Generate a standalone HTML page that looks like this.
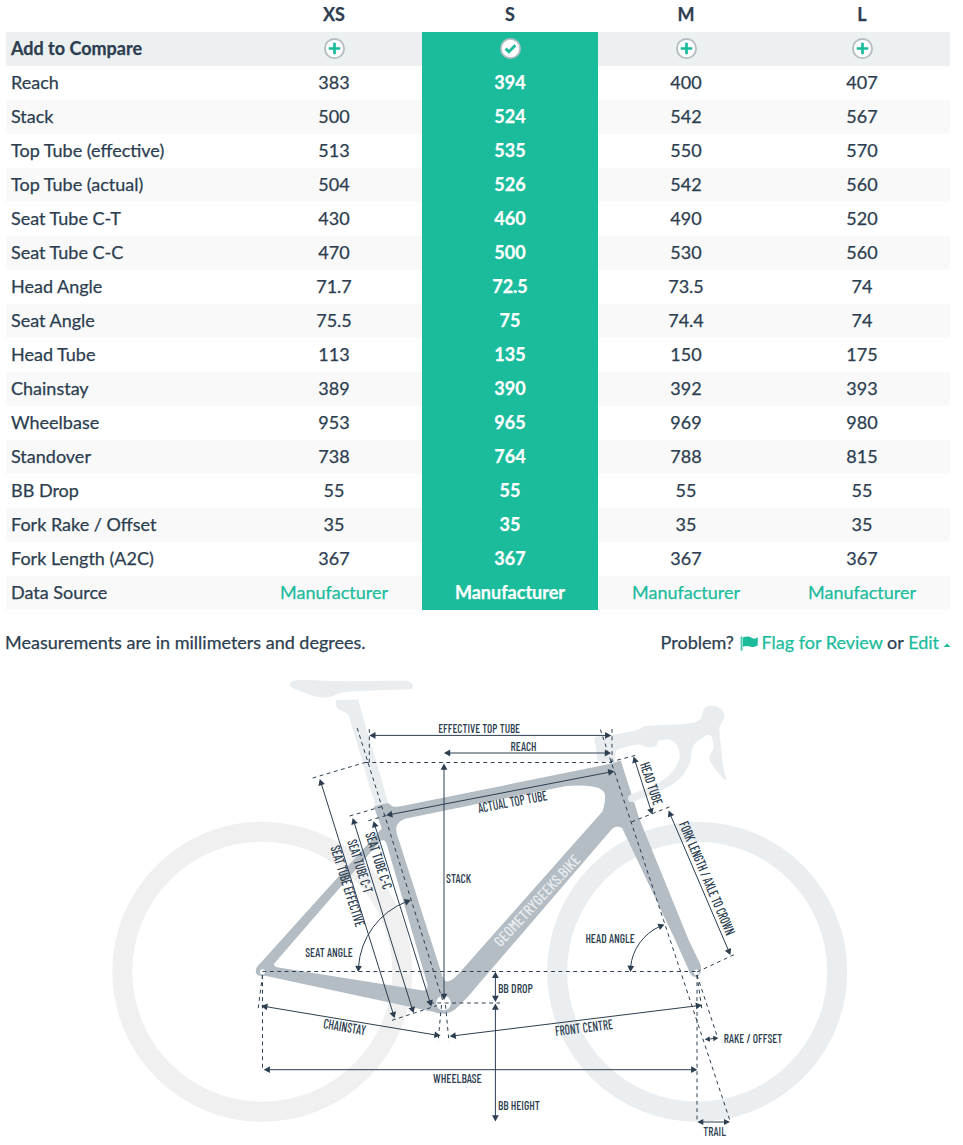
<!DOCTYPE html>
<html><head><meta charset="utf-8">
<style>
html,body{margin:0;padding:0;background:#fff;}
body{-webkit-text-stroke:0.25px currentColor;width:963px;height:1145px;overflow:hidden;position:relative;font-family:"Lato","Liberation Sans",sans-serif;color:#2c3e50;font-size:18px;}
table{position:absolute;left:6px;top:0;border-collapse:collapse;table-layout:fixed;width:944px;}
tr{height:34px;}
tr.h{height:32px;}
td,th{padding:0;white-space:nowrap;vertical-align:top;}
td{height:34px;line-height:32px;text-align:center;position:relative;}
th{height:32px;line-height:28px;font-weight:700;text-align:center;}
td.l{text-align:left;padding-left:5px;}
tr.cmp td{background:#ecf0f1;}
tr.cmp td.l{font-weight:700;}
tr.z td{background:#f9f9f9;}
tr td.s{background:#1abc9c;color:#fff;font-weight:700;}
td.src{color:#1abc9c;}
.ic{position:absolute;left:50%;top:6.3px;margin-left:-10.3px;width:21px;height:21px;}
.note{position:absolute;left:5px;top:629px;line-height:26px;white-space:nowrap;}
.prob{position:absolute;right:11px;top:629px;line-height:26px;white-space:nowrap;}
.g{color:#1abc9c;}
svg.bike{position:absolute;left:0;top:0;}
</style></head><body>
<table>
<colgroup><col style="width:240px"><col style="width:176px"><col style="width:176px"><col style="width:176px"><col style="width:176px"></colgroup>
<tr class="h"><th></th><th>XS</th><th>S</th><th>M</th><th>L</th></tr>
<tr class="cmp"><td class="l">Add to Compare</td><td><svg class="ic" viewBox="0 0 21 21"><circle cx="10.5" cy="10.5" r="9.6" fill="#fff" stroke="#b4bcc2" stroke-width="1.8"/><path d="M4.7 10.5H16.3M10.5 4.7V16.3" stroke="#1abc9c" stroke-width="2.7"/></svg></td><td class="s"><svg class="ic" viewBox="0 0 21 21"><circle cx="10.5" cy="10.5" r="9.6" fill="#fff" stroke="#b4bcc2" stroke-width="1.8"/><path d="M5.6 10.6L8.9 13.8L15.3 7.3" fill="none" stroke="#1abc9c" stroke-width="2.9"/></svg></td><td><svg class="ic" viewBox="0 0 21 21"><circle cx="10.5" cy="10.5" r="9.6" fill="#fff" stroke="#b4bcc2" stroke-width="1.8"/><path d="M4.7 10.5H16.3M10.5 4.7V16.3" stroke="#1abc9c" stroke-width="2.7"/></svg></td><td><svg class="ic" viewBox="0 0 21 21"><circle cx="10.5" cy="10.5" r="9.6" fill="#fff" stroke="#b4bcc2" stroke-width="1.8"/><path d="M4.7 10.5H16.3M10.5 4.7V16.3" stroke="#1abc9c" stroke-width="2.7"/></svg></td></tr>
<tr><td class="l">Reach</td><td>383</td><td class="s">394</td><td>400</td><td>407</td></tr>
<tr class="z"><td class="l">Stack</td><td>500</td><td class="s">524</td><td>542</td><td>567</td></tr>
<tr><td class="l">Top Tube (effective)</td><td>513</td><td class="s">535</td><td>550</td><td>570</td></tr>
<tr class="z"><td class="l">Top Tube (actual)</td><td>504</td><td class="s">526</td><td>542</td><td>560</td></tr>
<tr><td class="l">Seat Tube C-T</td><td>430</td><td class="s">460</td><td>490</td><td>520</td></tr>
<tr class="z"><td class="l">Seat Tube C-C</td><td>470</td><td class="s">500</td><td>530</td><td>560</td></tr>
<tr><td class="l">Head Angle</td><td>71.7</td><td class="s">72.5</td><td>73.5</td><td>74</td></tr>
<tr class="z"><td class="l">Seat Angle</td><td>75.5</td><td class="s">75</td><td>74.4</td><td>74</td></tr>
<tr><td class="l">Head Tube</td><td>113</td><td class="s">135</td><td>150</td><td>175</td></tr>
<tr class="z"><td class="l">Chainstay</td><td>389</td><td class="s">390</td><td>392</td><td>393</td></tr>
<tr><td class="l">Wheelbase</td><td>953</td><td class="s">965</td><td>969</td><td>980</td></tr>
<tr class="z"><td class="l">Standover</td><td>738</td><td class="s">764</td><td>788</td><td>815</td></tr>
<tr><td class="l">BB Drop</td><td>55</td><td class="s">55</td><td>55</td><td>55</td></tr>
<tr class="z"><td class="l">Fork Rake / Offset</td><td>35</td><td class="s">35</td><td>35</td><td>35</td></tr>
<tr><td class="l">Fork Length (A2C)</td><td>367</td><td class="s">367</td><td>367</td><td>367</td></tr>
<tr class="z"><td class="l">Data Source</td><td class="src">Manufacturer</td><td class="s">Manufacturer</td><td class="src">Manufacturer</td><td class="src">Manufacturer</td></tr>
</table>
<div class="note">Measurements are in millimeters and degrees.</div>
<div class="prob">Problem? <span class="g"><svg width="22" height="16" viewBox="0 0 22 16" style="vertical-align:-2px;margin-left:1px"><rect x="0.6" y="1.2" width="1.9" height="14.6" rx="0.9" fill="#1abc9c" opacity="0.8"/><path d="M2.9 2.6 C6.5 0.8 9.5 1.2 12.5 3.2 C14.5 4.2 16 3.4 17.7 2 L17.7 10.3 C15.8 11.6 13.5 12.5 11 11.7 C8 10.6 5.5 10.6 2.9 11.7 Z" fill="#1abc9c"/></svg>Flag for Review</span> or <span class="g">Edit</span><svg width="10" height="8" viewBox="0 0 10 8" style="margin-left:3px"><path d="M1.5 6 L5 2.5 L8.5 6 Z" fill="#1abc9c"/></svg></div>
<!--BIKE--><svg class="bike" width="963" height="1145" viewBox="0 0 963 1145" font-family="'Barlow Condensed','Liberation Sans Narrow','Liberation Sans',sans-serif" font-weight="500">
<circle cx="262.3" cy="971.7" r="140" fill="none" stroke="#f0f0f0" stroke-width="20"/>
<circle cx="697.2" cy="971.7" r="140" fill="none" stroke="#eaeef0" stroke-width="20"/>
<path d="M290 684 C291 679.5 300 679.5 318 680.5 C350 682 380 680.5 404 680.8 C412 681 415 686 412 689 C395 690 360 690.5 345 692 C336 693 334 697.5 325 697.6 C312 697.5 300 691 292 687.5 C290 686.5 290 685 290 684Z" fill="#e9edef"/>
<path d="M335.5 700 L358.3 699.5 C360 708 385 790 389 806 L376 808 L349 716 C347 712 340 711 337.5 708.5 C336 706 335.5 703 335.5 700Z" fill="#e9edef"/>
<path d="M373.7 806.5 L386.5 803.3 C389 803 390 804 391 805.5 C393 807 397 807.2 402 806 L602 765.6 L611.2 763.4 L620.7 760.5 L639.8 820 L688.7 940 L700.3 964 C702 969 700.5 976.5 696.5 977 C692.5 977.3 689.5 974 688.3 969 L675.2 940 L622.8 829.5 C622.5 827 619 826.2 615.5 827 C613.5 827.5 612.5 828.5 611.5 829.5 L477 986 C470 995 462 1003 455 1009.5 C450 1013 446.5 1013.8 442 1013.6 C439 1013.5 437 1013 434 1012 L265 975.7 C258 977 255.5 974.5 255.8 970.5 C256 967.5 258 965.5 261 962.5 L381.8 828.5 Z M397.5 836 C395 829 395.5 821.5 406 818.5 L565 786.2 C578 785 588 785.6 596 787.2 C601 788.5 604.5 791 605 795 C605.3 800 604.5 806 602.4 811.5 L461 971 C455 978 450.5 981.5 447.5 981.5 C445 981.5 443.5 979.5 442.5 976.5 Z M274.5 963.3 L379.5 842 C382.5 839 385.5 840 386.5 843.5 L427 983 C428.5 988 427 990.5 423 990.5 L277 967.2 C274 966.5 273.3 964.6 274.5 963.3 Z" fill="#b4bcc4" fill-rule="evenodd"/>
<path d="M594.4 738.5C594.8 736.6 594.6 737.1 598.7 736.3C602.8 735.5 612.5 734.8 619.1 733.7C625.6 732.6 633.6 731.1 638.0 729.8C642.3 728.5 641.1 727.0 645.2 726.2C649.4 725.4 656.1 725.4 662.7 725.0C669.2 724.6 678.9 724.5 684.5 724.0C690.1 723.5 693.3 722.9 696.1 721.8C698.9 720.7 700.0 719.4 701.2 717.4C702.4 715.5 702.5 712.0 703.4 710.2C704.2 708.4 704.6 707.3 706.3 706.5C708.0 705.8 711.1 705.5 713.6 705.8C716.0 706.2 719.0 707.3 720.8 708.7C722.7 710.2 724.1 712.6 724.5 714.5C724.8 716.5 723.7 718.5 723.0 720.4C722.3 722.2 720.7 724.0 720.1 725.4C719.5 726.9 719.4 727.0 719.4 729.1C719.4 731.1 719.7 733.9 720.1 737.8C720.5 741.7 721.1 747.7 721.6 752.3C722.0 756.9 722.4 761.7 723.0 765.4C723.6 769.2 724.6 772.7 725.2 774.9C725.8 777.0 726.8 777.7 726.6 778.5C726.5 779.3 725.4 780.1 724.5 779.7C723.5 779.2 722.7 777.7 720.8 775.6C719.0 773.5 715.5 769.7 713.6 766.9C711.7 764.1 710.0 761.1 709.5 758.9C709.0 756.7 710.0 755.6 710.7 753.8C711.3 752.0 713.2 750.2 713.6 748.0C713.9 745.8 713.3 742.8 712.8 740.7C712.4 738.6 711.7 736.5 710.7 735.6C709.6 734.8 708.0 735.1 706.3 735.6C704.6 736.2 702.4 737.6 700.5 739.0C698.6 740.3 696.4 741.6 695.0 743.6C693.5 745.6 692.5 748.0 691.8 750.9C691.0 753.8 691.5 757.4 690.3 761.1C689.1 764.7 687.2 769.1 684.5 772.7C681.8 776.3 678.7 779.7 674.3 782.9C670.0 786.1 663.2 789.5 658.3 791.9C653.5 794.2 649.4 795.5 645.2 797.1C641.1 798.8 636.3 801.1 633.6 801.8C630.9 802.4 629.9 801.8 629.0 801.0C628.0 800.3 627.7 798.2 628.1 797.1C628.5 796.0 629.3 795.3 631.4 794.2C633.6 793.1 636.6 792.1 640.9 790.4C645.1 788.7 651.8 787.0 656.9 784.0C662.0 781.1 667.8 776.5 671.4 772.7C675.0 768.9 677.3 764.4 678.7 761.1C680.0 757.7 679.9 755.2 679.4 752.3C678.9 749.4 677.5 745.7 675.8 743.6C674.1 741.5 671.4 740.1 669.2 739.5C667.0 738.9 664.5 739.7 662.7 740.0C660.9 740.2 659.3 740.2 658.3 741.0C657.4 741.8 657.8 743.8 656.9 744.8C655.9 745.8 654.4 746.8 652.5 747.1C650.6 747.4 647.4 747.0 645.2 746.5C643.1 746.1 641.4 744.7 639.4 744.5C637.5 744.2 636.3 744.5 633.6 745.1C630.9 745.6 626.2 746.8 623.4 747.7C620.6 748.5 618.3 748.7 616.9 750.2C615.4 751.7 615.3 754.9 614.7 756.7C614.1 758.5 615.9 760.3 613.3 761.1C610.6 761.8 601.6 763.2 598.7 761.1C595.9 758.9 596.8 751.7 596.1 748.0C595.4 744.2 593.9 740.5 594.4 738.5Z" fill="#e9edef"/>
<circle cx="443.5" cy="1003" r="7.3" fill="#fff"/>
<circle cx="262.5" cy="971.8" r="2.6" fill="#fff"/>
<circle cx="696.3" cy="972.2" r="2.6" fill="#fff"/>
<g transform="translate(537 900.5) rotate(-47.2)"><text x="0" y="5.4" font-size="15" font-weight="500" fill="#e8ecef" text-anchor="middle" textLength="119" lengthAdjust="spacingAndGlyphs">GEOMETRYGEEKS.BIKE</text></g>
<line x1="369.3" y1="729.0" x2="369.3" y2="762.4" stroke="#2c3e50" stroke-width="1.0" stroke-dasharray="3.8 3.6"/>
<line x1="612.0" y1="729.0" x2="612.0" y2="762.0" stroke="#2c3e50" stroke-width="1.0" stroke-dasharray="3.8 3.6"/>
<line x1="365.0" y1="762.5" x2="612.0" y2="762.5" stroke="#2c3e50" stroke-width="1.0" stroke-dasharray="3.8 3.6"/>
<line x1="312.6" y1="778.0" x2="365.5" y2="762.4" stroke="#2c3e50" stroke-width="1.0" stroke-dasharray="3.8 3.6"/>
<line x1="357.2" y1="728.0" x2="443.5" y2="1003.0" stroke="#2c3e50" stroke-width="1.0" stroke-dasharray="3.8 3.6"/>
<line x1="600.4" y1="729.5" x2="730.4" y2="1122.0" stroke="#2c3e50" stroke-width="1.0" stroke-dasharray="3.8 3.6"/>
<line x1="349.6" y1="816.0" x2="381.8" y2="806.6" stroke="#2c3e50" stroke-width="1.0" stroke-dasharray="3.8 3.6"/>
<line x1="368.3" y1="820.7" x2="388.0" y2="815.0" stroke="#2c3e50" stroke-width="1.0" stroke-dasharray="3.8 3.6"/>
<line x1="392.0" y1="1020.3" x2="437.0" y2="1005.6" stroke="#2c3e50" stroke-width="1.0" stroke-dasharray="3.8 3.6"/>
<line x1="262.5" y1="971.5" x2="697.0" y2="971.5" stroke="#2c3e50" stroke-width="1.0" stroke-dasharray="3.8 3.6"/>
<line x1="430.0" y1="1003.0" x2="500.0" y2="1003.0" stroke="#2c3e50" stroke-width="1.0" stroke-dasharray="3.8 3.6"/>
<line x1="610.0" y1="762.0" x2="637.8" y2="754.8" stroke="#2c3e50" stroke-width="1.0" stroke-dasharray="3.8 3.6"/>
<line x1="631.5" y1="821.9" x2="671.0" y2="806.3" stroke="#2c3e50" stroke-width="1.0" stroke-dasharray="3.8 3.6"/>
<line x1="697.0" y1="972.0" x2="736.4" y2="953.6" stroke="#2c3e50" stroke-width="1.0" stroke-dasharray="3.8 3.6"/>
<line x1="262.5" y1="975.0" x2="262.5" y2="1070.0" stroke="#2c3e50" stroke-width="1.0" stroke-dasharray="3.8 3.6"/>
<line x1="262.5" y1="975.0" x2="258.0" y2="1010.0" stroke="#2c3e50" stroke-width="1.0" stroke-dasharray="3.8 3.6"/>
<line x1="441.5" y1="1005.0" x2="438.0" y2="1042.0" stroke="#2c3e50" stroke-width="1.0" stroke-dasharray="3.8 3.6"/>
<line x1="445.5" y1="1005.0" x2="449.0" y2="1042.0" stroke="#2c3e50" stroke-width="1.0" stroke-dasharray="3.8 3.6"/>
<line x1="697.0" y1="975.0" x2="697.0" y2="1122.0" stroke="#2c3e50" stroke-width="1.0" stroke-dasharray="3.8 3.6"/>
<line x1="697.0" y1="975.0" x2="702.0" y2="1010.0" stroke="#2c3e50" stroke-width="1.0" stroke-dasharray="3.8 3.6"/>
<line x1="697.0" y1="975.0" x2="716.8" y2="1035.0" stroke="#2c3e50" stroke-width="1.0" stroke-dasharray="3.8 3.6"/>
<line x1="374.3" y1="735.4" x2="606.3" y2="735.4" stroke="#2c3e50" stroke-width="1.0"/>
<path d="M369.3 735.4L375.5 732.0L375.5 738.8Z" fill="#2c3e50"/>
<path d="M611.3 735.4L605.1 738.8L605.1 732.0Z" fill="#2c3e50"/>
<line x1="449.0" y1="753.0" x2="606.0" y2="753.0" stroke="#2c3e50" stroke-width="1.0"/>
<path d="M444.0 753.0L450.2 749.6L450.2 756.4Z" fill="#2c3e50"/>
<path d="M611.0 753.0L604.8 756.4L604.8 749.6Z" fill="#2c3e50"/>
<line x1="444.0" y1="768.6" x2="444.0" y2="995.0" stroke="#2c3e50" stroke-width="1.0"/>
<path d="M444.0 763.6L447.4 769.8L440.6 769.8Z" fill="#2c3e50"/>
<path d="M444.0 1000.0L440.6 993.8L447.4 993.8Z" fill="#2c3e50"/>
<line x1="321.3" y1="783.7" x2="393.1" y2="1013.4" stroke="#2c3e50" stroke-width="1.0"/>
<path d="M319.8 779.0L324.9 783.9L318.4 785.9Z" fill="#2c3e50"/>
<path d="M394.6 1018.1L389.5 1013.2L396.0 1011.2Z" fill="#2c3e50"/>
<line x1="354.2" y1="822.7" x2="412.1" y2="1008.4" stroke="#2c3e50" stroke-width="1.0"/>
<path d="M352.7 818.0L357.8 822.9L351.3 824.9Z" fill="#2c3e50"/>
<path d="M413.6 1013.1L408.5 1008.2L415.0 1006.2Z" fill="#2c3e50"/>
<line x1="375.0" y1="825.9" x2="429.9" y2="1001.8" stroke="#2c3e50" stroke-width="1.0"/>
<path d="M373.5 821.2L378.6 826.1L372.1 828.1Z" fill="#2c3e50"/>
<path d="M431.4 1006.5L426.3 1001.6L432.8 999.6Z" fill="#2c3e50"/>
<line x1="391.1" y1="814.4" x2="609.4" y2="772.2" stroke="#2c3e50" stroke-width="1.0"/>
<path d="M386.2 815.3L391.6 810.8L392.9 817.5Z" fill="#2c3e50"/>
<path d="M614.3 771.3L608.9 775.8L607.6 769.1Z" fill="#2c3e50"/>
<line x1="635.1" y1="761.2" x2="650.8" y2="809.9" stroke="#2c3e50" stroke-width="1.0"/>
<path d="M633.6 756.5L638.7 761.4L632.3 763.4Z" fill="#2c3e50"/>
<path d="M652.3 814.6L647.2 809.7L653.6 807.7Z" fill="#2c3e50"/>
<line x1="670.5" y1="815.1" x2="728.5" y2="950.5" stroke="#2c3e50" stroke-width="1.0"/>
<path d="M668.6 810.5L674.2 814.9L667.9 817.5Z" fill="#2c3e50"/>
<path d="M730.4 955.1L724.8 950.7L731.1 948.1Z" fill="#2c3e50"/>
<line x1="495.4" y1="976.8" x2="495.4" y2="997.0" stroke="#2c3e50" stroke-width="1.0"/>
<path d="M495.4 971.8L498.8 978.0L492.0 978.0Z" fill="#2c3e50"/>
<path d="M495.4 1002.0L492.0 995.8L498.8 995.8Z" fill="#2c3e50"/>
<line x1="495.4" y1="1008.6" x2="495.4" y2="1116.4" stroke="#2c3e50" stroke-width="1.0"/>
<path d="M495.4 1003.6L498.8 1009.8L492.0 1009.8Z" fill="#2c3e50"/>
<path d="M495.4 1121.4L492.0 1115.2L498.8 1115.2Z" fill="#2c3e50"/>
<line x1="266.1" y1="1006.7" x2="435.7" y2="1035.0" stroke="#2c3e50" stroke-width="1.0"/>
<path d="M261.2 1005.9L267.9 1003.6L266.8 1010.3Z" fill="#2c3e50"/>
<path d="M440.6 1035.8L433.9 1038.1L435.0 1031.4Z" fill="#2c3e50"/>
<line x1="454.5" y1="1035.7" x2="697.1" y2="1005.8" stroke="#2c3e50" stroke-width="1.0"/>
<path d="M449.6 1036.3L455.3 1032.2L456.2 1038.9Z" fill="#2c3e50"/>
<path d="M702.0 1005.2L696.3 1009.3L695.4 1002.6Z" fill="#2c3e50"/>
<line x1="268.7" y1="1069.7" x2="692.3" y2="1069.7" stroke="#2c3e50" stroke-width="1.0"/>
<path d="M263.7 1069.7L269.9 1066.3L269.9 1073.1Z" fill="#2c3e50"/>
<path d="M697.3 1069.7L691.1 1073.1L691.1 1066.3Z" fill="#2c3e50"/>
<line x1="702.1" y1="1122.0" x2="725.2" y2="1122.0" stroke="#2c3e50" stroke-width="1.0"/>
<path d="M697.3 1122.0L703.3 1119.0L703.3 1125.0Z" fill="#2c3e50"/>
<path d="M730.0 1122.0L724.0 1125.0L724.0 1119.0Z" fill="#2c3e50"/>
<line x1="708.8" y1="1039.1" x2="714.3" y2="1038.4" stroke="#2c3e50" stroke-width="1.0"/>
<path d="M704.8 1039.5L709.5 1036.2L710.1 1041.7Z" fill="#2c3e50"/>
<path d="M718.3 1038.0L713.6 1041.3L713.0 1035.8Z" fill="#2c3e50"/>
<path d="M358.5 967.0 A75.5 75.5 0 0 1 406.2 901.7" fill="none" stroke="#2c3e50" stroke-width="1.0"/>
<path d="M358.3 972.0L355.1 965.7L361.9 965.9Z" fill="#2c3e50"/>
<path d="M410.8 900.1L406.2 905.4L403.8 899.0Z" fill="#2c3e50"/>
<path d="M630.6 967.0 A50 50 0 0 1 659.9 926.4" fill="none" stroke="#2c3e50" stroke-width="1.0"/>
<path d="M630.4 972.0L627.4 965.6L634.2 966.0Z" fill="#2c3e50"/>
<path d="M664.5 924.6L660.0 930.1L657.4 923.8Z" fill="#2c3e50"/>
<text x="438.2" y="733.2" font-size="14" fill="#2c3e50" text-anchor="start" textLength="81.8" lengthAdjust="spacingAndGlyphs">EFFECTIVE TOP TUBE</text>
<text x="510.6" y="751" font-size="14" fill="#2c3e50" text-anchor="start" textLength="26" lengthAdjust="spacingAndGlyphs">REACH</text>
<text x="446.1" y="882.9" font-size="14" fill="#2c3e50" text-anchor="start" textLength="25" lengthAdjust="spacingAndGlyphs">STACK</text>
<text x="305.3" y="956.8" font-size="14" fill="#2c3e50" text-anchor="start" textLength="47.3" lengthAdjust="spacingAndGlyphs">SEAT ANGLE</text>
<text x="497.9" y="992.7" font-size="14" fill="#2c3e50" text-anchor="start" textLength="35" lengthAdjust="spacingAndGlyphs">BB DROP</text>
<text x="497.9" y="1110.1" font-size="14" fill="#2c3e50" text-anchor="start" textLength="42" lengthAdjust="spacingAndGlyphs">BB HEIGHT</text>
<text x="433.1" y="1082.6" font-size="14" fill="#2c3e50" text-anchor="start" textLength="48.6" lengthAdjust="spacingAndGlyphs">WHEELBASE</text>
<text x="585.4" y="943" font-size="14" fill="#2c3e50" text-anchor="start" textLength="49.4" lengthAdjust="spacingAndGlyphs">HEAD ANGLE</text>
<text x="723.7" y="1043.4" font-size="14" fill="#2c3e50" text-anchor="start" textLength="58.5" lengthAdjust="spacingAndGlyphs">RAKE / OFFSET</text>
<text x="703.3" y="1136.4" font-size="14" fill="#2c3e50" text-anchor="start" textLength="22.5" lengthAdjust="spacingAndGlyphs">TRAIL</text>
<g transform="translate(512.5 801.8) rotate(-10.7)"><text x="0" y="4.8" font-size="14" fill="#2c3e50" text-anchor="middle" textLength="70" lengthAdjust="spacingAndGlyphs">ACTUAL TOP TUBE</text></g>
<g transform="translate(347.5 886) rotate(72.3)"><text x="0" y="4.8" font-size="14" fill="#2c3e50" text-anchor="middle" textLength="84" lengthAdjust="spacingAndGlyphs">SEAT TUBE EFFECTIVE</text></g>
<g transform="translate(360 866.3) rotate(72.3)"><text x="0" y="4.8" font-size="14" fill="#2c3e50" text-anchor="middle" textLength="55" lengthAdjust="spacingAndGlyphs">SEAT TUBE C-T</text></g>
<g transform="translate(378.6 860.6) rotate(72.3)"><text x="0" y="4.8" font-size="14" fill="#2c3e50" text-anchor="middle" textLength="59" lengthAdjust="spacingAndGlyphs">SEAT TUBE C-C</text></g>
<g transform="translate(344.7 1027) rotate(9.5)"><text x="0" y="4.8" font-size="14" fill="#2c3e50" text-anchor="middle" textLength="43" lengthAdjust="spacingAndGlyphs">CHAINSTAY</text></g>
<g transform="translate(583.9 1027.7) rotate(-7)"><text x="0" y="4.8" font-size="14" fill="#2c3e50" text-anchor="middle" textLength="58" lengthAdjust="spacingAndGlyphs">FRONT CENTRE</text></g>
<g transform="translate(651.2 783.5) rotate(71.5)"><text x="0" y="4.8" font-size="14" fill="#2c3e50" text-anchor="middle" textLength="44" lengthAdjust="spacingAndGlyphs">HEAD TUBE</text></g>
<g transform="translate(707 878.3) rotate(67)"><text x="0" y="4.8" font-size="14" fill="#2c3e50" text-anchor="middle" textLength="122" lengthAdjust="spacingAndGlyphs">FORK LENGTH / AXLE TO CROWN</text></g>
</svg><!--/BIKE-->
</body></html>
